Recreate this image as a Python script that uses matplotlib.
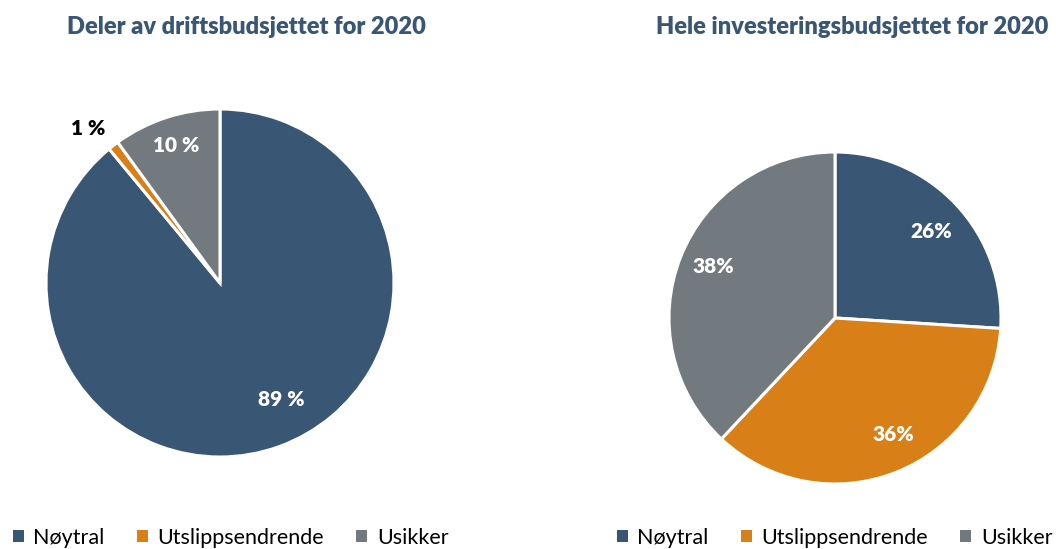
import matplotlib.pyplot as plt
from matplotlib.patches import Patch

# Budget shares (percent)
categories = ["Nøytral", "Utslippsendrende", "Usikker"]
drift_values = [89, 1, 10]
invest_values = [26, 36, 38]
drift_labels = ["89 %", "1 %", "10 %"]
invest_labels = ["26%", "36%", "38%"]
titles = ["Deler av driftsbudsjettet for 2020", "Hele investeringsbudsjettet for 2020"]

colors = ["#3A5675", "#D97F17", "#72797F"]
title_color = "#3A5675"

plt.rcParams["font.family"] = ["Lato", "DejaVu Sans"]

W, H = 1056, 549
fig = plt.figure(figsize=(W / 100, H / 100), dpi=100)


def pie_axes(cx, cy, r):
    # cx, cy, r in pixels (y measured from top)
    return fig.add_axes([(cx - r) / W, (H - cy - r) / H, 2 * r / W, 2 * r / H])


def draw_pie(ax, values, labels, label_pos, label_colors):
    ax.pie(values, colors=colors, startangle=90, counterclock=False,
           wedgeprops=dict(edgecolor="white", linewidth=2.2))
    ax.set_xlim(-1, 1)
    ax.set_ylim(-1, 1)
    ax.set_aspect("equal")
    ax.axis("off")
    for lab, (x, y), c in zip(labels, label_pos, label_colors):
        ax.text(x, y, lab, ha="center", va="center", fontsize=15,
                fontweight="heavy", color=c, clip_on=False)


ax1 = pie_axes(220, 283, 174)
draw_pie(ax1, drift_values, drift_labels,
         [(0.35, -0.67), (-0.76, 0.89), (-0.25, 0.79)],
         ["white", "black", "white"])

ax2 = pie_axes(835, 318, 166)
draw_pie(ax2, invest_values, invest_labels,
         [(0.58, 0.52), (0.35, -0.70), (-0.73, 0.31)],
         ["white", "white", "white"])

fig.text(246 / W, 1 - 27 / H, titles[0], ha="center", va="center",
         fontsize=17, fontweight="heavy", color=title_color)
fig.text(852 / W, 1 - 27 / H, titles[1], ha="center", va="center",
         fontsize=17, fontweight="heavy", color=title_color)

handles = [Patch(facecolor=c, edgecolor="none") for c in colors]
for x0 in (13 / W, 617 / W):
    fig.legend(handles, categories, loc="center left", bbox_to_anchor=(x0, 1 - 538 / H),
               ncol=3, frameon=False, fontsize=15.5, handlelength=0.5, handleheight=0.5,
               handletextpad=0.45, columnspacing=1.5, borderaxespad=0, borderpad=0)

fig.savefig("out.png", dpi=100)
